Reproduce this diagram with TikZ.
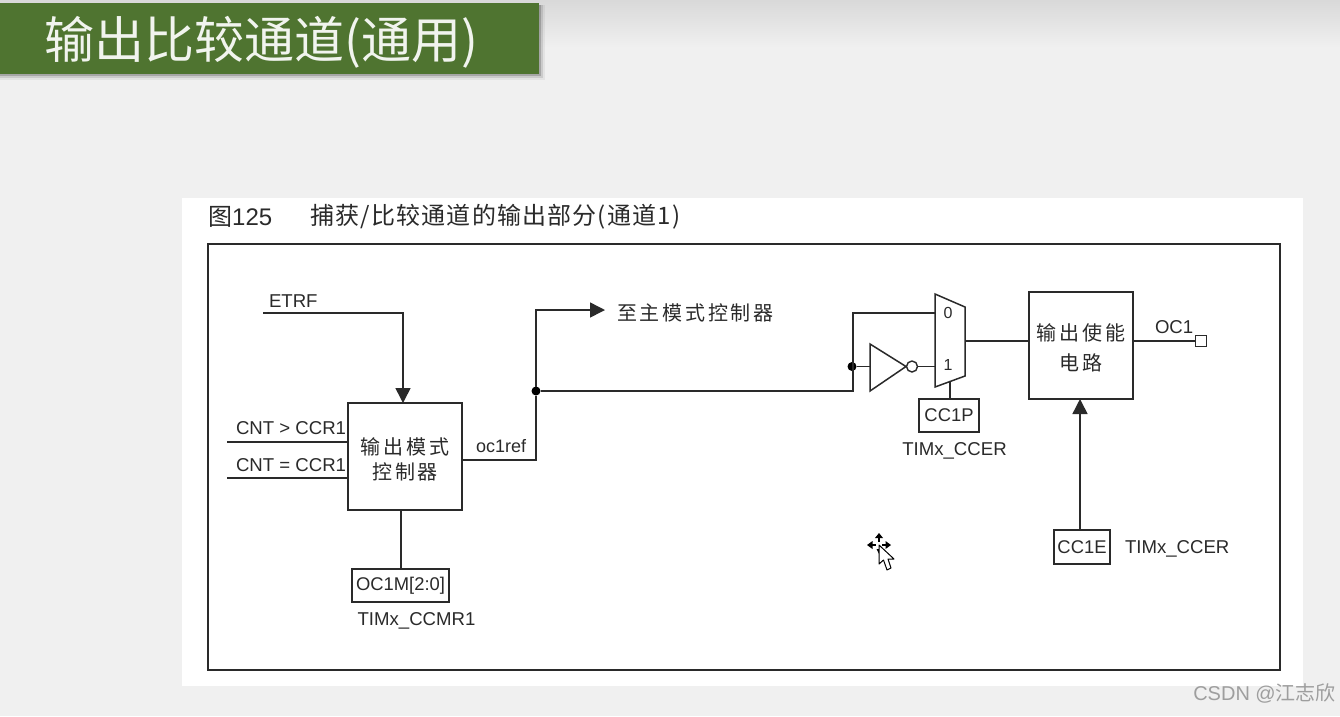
\documentclass[tikz,border=0pt]{standalone}
\usepackage{fontspec}
\setmainfont{Liberation Sans}
\newfontfamily\cjk{Noto Sans CJK SC}
\newfontfamily\cjkw[LetterSpace=14]{Noto Sans CJK SC}
\newfontfamily\cjkc[LetterSpace=5]{Noto Sans CJK SC}
\usetikzlibrary{arrows.meta,shapes.geometric}
\definecolor{bg}{HTML}{F0F0F0}
\definecolor{ink}{HTML}{2A2A2A}
\definecolor{band}{HTML}{4F7430}
\tikzset{
  x=1pt,y=-1pt,
  wire/.style={draw=ink,line width=1.5pt},
  arrowwire/.style={wire,-{Triangle[width=15pt,length=15pt]}},
  blockbox/.style={draw=ink,line width=1.6pt,inner sep=0pt,outer sep=0pt,align=center,fill=white},
  regbox/.style={draw=ink,line width=1.5pt,inner sep=0pt,outer sep=0pt,fill=white,text=ink,font=\fontsize{18.4}{20}\selectfont},
  lbl/.style={inner sep=0pt,outer sep=0pt,text=ink,font=\fontsize{18.6}{20}\selectfont},
  cjklbl/.style={inner sep=0pt,outer sep=0pt,text=ink,align=center,font=\fontsize{20}{25}\selectfont\cjkw},
  dotnode/.style={circle,fill=black,inner sep=0pt,minimum size=9pt,outer sep=0pt},
}
\begin{document}
\begin{tikzpicture}
\useasboundingbox (0,0) rectangle (1340,716);
% background
\fill[bg] (0,0) rectangle (1340,716);
\shade[top color=black!15,bottom color=bg,draw=none] (0,0) rectangle (1340,48);
% title band
\fill[black,opacity=.05] (0,5) rectangle (545,80);
\fill[black,opacity=.10] (0,5) rectangle (543,78);
\fill[black,opacity=.18] (0,5) rectangle (541,76);
\node[fill=band,minimum width=539pt,minimum height=71pt,inner sep=0pt,outer sep=0pt,anchor=north west] (band) at (0,3) {};
\node[anchor=west,inner sep=0pt,text=white!92!band,font=\fontsize{50}{52}\selectfont\cjk] (title) at (44,42) {输出比较通道(通用)};
% white panel and frame
\node[fill=white,minimum width=1121pt,minimum height=488pt,inner sep=0pt,outer sep=0pt,anchor=north west] (panel) at (182,198) {};
\node[draw=ink,line width=1.6pt,minimum width=1072pt,minimum height=426pt,inner sep=0pt,outer sep=0pt,anchor=north west] (frame) at (208,244) {};
% caption
\node[anchor=west,inner sep=0pt,text=ink,font=\fontsize{24}{26}\selectfont] (fig) at (208,217) {{\cjk 图}125};
\node[anchor=west,inner sep=0pt,text=ink,font=\fontsize{24}{26}\selectfont\cjkc] (cap) at (310,217) {捕获/比较通道的输出部分(通道1)};
% blocks
\node[blockbox,minimum width=114pt,minimum height=107pt] (mode) at (405,456.5) {};
\node[cjklbl] (modet) at (405,459) {输出模式\\控制器};
\node[blockbox,minimum width=104pt,minimum height=107pt] (en) at (1081,345.5) {};
\node[cjklbl,font=\fontsize{20}{30}\selectfont\cjkw] (ent) at (1081,348) {输出使能\\电路};
\node[regbox,minimum width=97pt,minimum height=33pt] (ocm) at (400.5,585.5) {OC1M[2:0]};
\node[regbox,minimum width=60pt,minimum height=33pt] (ccp) at (949,415.5) {CC1P};
\node[regbox,minimum width=56pt,minimum height=34pt] (cce) at (1082,547) {CC1E};
% mux
\node[inner sep=0pt,outer sep=0pt] (mux0) at (948,313) {\fontsize{16}{18}\selectfont\textcolor{ink}{0}};
\node[inner sep=0pt,outer sep=0pt] (mux1) at (948,365) {\fontsize{16}{18}\selectfont\textcolor{ink}{1}};
\coordinate (muxa) at (935,294);
\coordinate (muxb) at (965,307);
\coordinate (muxc) at (965,376);
\coordinate (muxd) at (935,387);
\draw[wire,line join=miter] (muxa) -- (muxb) -- (muxc) -- (muxd) -- cycle;
\coordinate (muxin0) at (935,313);
\coordinate (muxin1) at (935,366.5);
\coordinate (muxout) at (965,341);
\coordinate (muxsel) at (950,382);
% inverter
\coordinate (inva) at (870,344);
\coordinate (invb) at (906,366.5);
\coordinate (invc) at (870,391);
\draw[wire,line join=miter] (inva) -- (invb) -- (invc) -- cycle;
\node[circle,draw=ink,line width=1.4pt,fill=white,minimum size=11pt,inner sep=0pt,outer sep=0pt] (bub) at (912,366.5) {};
\coordinate (invin) at (870,366.5);
% labels
\node[lbl,anchor=west] (etrf) at (269,301) {ETRF};
\node[lbl,anchor=west] (cgt) at (236,428) {CNT > CCR1};
\node[lbl,anchor=west] (ceq) at (236,465) {CNT = CCR1};
\node[lbl,anchor=west,font=\fontsize{18}{20}\selectfont] (ocref) at (476,446) {oc1ref};
\node[cjklbl,anchor=west] (master) at (617,312.5) {至主模式控制器};
\node[lbl,anchor=west] (oc1) at (1155,327) {OC1};
\node[lbl] (tccmr) at (416.5,621) {TIMx\_CCMR1};
\node[lbl] (tcp) at (954.5,451) {TIMx\_CCER};
\node[lbl,anchor=west] (tce) at (1125,549) {TIMx\_CCER};
% pin
\node[draw=ink,line width=1.4pt,fill=white,minimum size=11pt,inner sep=0pt,outer sep=0pt] (pin) at (1201,341) {};
% free ends and corners
\coordinate (etrfs) at (263,313);
\coordinate (etrfc) at (403,313);
\coordinate (etrfe) at (403,403);
\coordinate (gts) at (227,442);
\coordinate (eqs) at (227,478);
\coordinate (mastert) at (605,310);
\coordinate (cceo) at (1080,530);
\coordinate (cceb) at (1080,399);
\node[dotnode] (j1) at (536,391) {};
\node[dotnode] (j2) at (852,366.5) {};
% connectors
\draw[arrowwire] (etrfs) -- (etrfc) -- (etrfe);
\draw[wire] (gts) -- (gts -| mode.west);
\draw[wire] (eqs) -- (eqs -| mode.west);
\draw[wire] (mode.east |- 0,460) -- (536,460) -- (j1);
\draw[arrowwire] (j1) -- (536,310) -- (mastert);
\draw[wire] (j1) -- (853,391) -- (853,313) -- (muxin0);
\draw[wire] (j2) -- (invin);
\draw[wire] (bub) -- (muxin1);
\draw[wire] (muxout) -- (muxout -| en.west);
\draw[wire] (en.east |- muxout) -- (pin.west);
\draw[wire] (muxsel) -- (muxsel |- ccp.north);
\draw[wire] (ocm.north -| 401,0) -- (401,510);
\draw[arrowwire] (cceo) -- (cceb);
% pointer
\begin{scope}[shift={(879,545)}]
\fill[black] (0,-12) -- (-4,-7) -- (4,-7) -- cycle;
\fill[black] (-12,0) -- (-6.5,-4) -- (-6.5,4) -- cycle;
\fill[black] (12,0) -- (6.5,-4) -- (6.5,4) -- cycle;
\fill[black] (0,9) -- (-2.5,4) -- (2.5,4) -- cycle;
\fill[black] (-1,-8) rectangle (1,-3);
\fill[black] (-8,-1) rectangle (-3,1);
\fill[black] (3,-1) rectangle (8,1);
\draw[black,fill=white,line width=1pt,line join=round] (0,0) -- (0,19) -- (4.5,15) -- (8,25) -- (12,23) -- (9,14) -- (15,14) -- cycle;
\end{scope}
% watermark
\node[anchor=east,inner sep=0pt,text=black!38,font=\fontsize{20}{22}\selectfont] (wm) at (1336,693) {CSDN @{\cjk 江志欣}};
\end{tikzpicture}
\end{document}
